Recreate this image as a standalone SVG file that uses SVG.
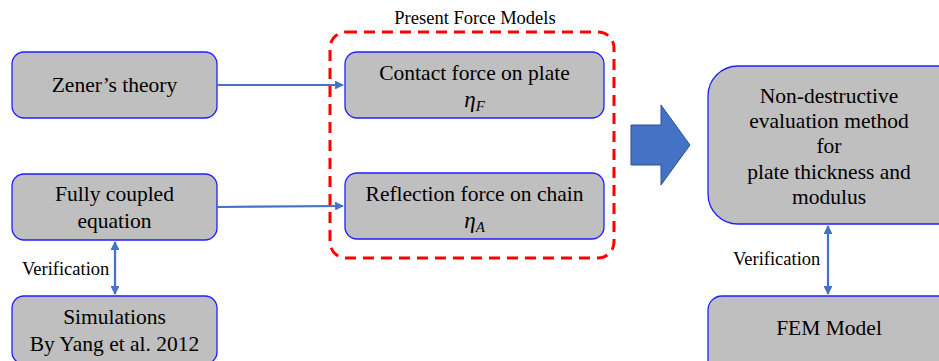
<svg xmlns="http://www.w3.org/2000/svg" width="939" height="361" viewBox="0 0 939 361">
  <defs>
    <marker id="ah" viewBox="0 0 10 10" refX="9" refY="5" markerWidth="4" markerHeight="4" orient="auto-start-reverse" markerUnits="strokeWidth">
      <path d="M0,0 L10,5 L0,10 z" fill="#4472c4"/>
    </marker>
    <style>
      .box { fill: #bfbfbf; stroke: #1f1fff; stroke-width: 1.3; }
      .t { font-family: 'Liberation Serif', 'DejaVu Serif', serif; font-size: 21.5px; fill: #000; text-anchor: middle; }
      .lbl { font-family: 'Liberation Serif', 'DejaVu Serif', serif; font-size: 18.5px; fill: #000; }
      .m { font-family: 'Liberation Serif', 'DejaVu Serif', serif; font-style: italic; font-size: 23px; fill: #000; text-anchor: middle; }
      .conn { stroke: #4472c4; stroke-width: 2.2; fill: none; }
    </style>
  </defs>
  <rect width="939" height="361" fill="#ffffff"/>

  <!-- dashed frame around the present force models -->
  <g id="present-models">
    <rect x="330" y="32" width="284" height="226" rx="16" fill="none" stroke="#ff0000" stroke-width="3" stroke-dasharray="11,7"/>
    <text class="lbl" x="475" y="24" text-anchor="middle">Present Force Models</text>
  </g>

  <g id="zener">
    <rect class="box" x="12" y="52" width="205" height="66" rx="12"/>
    <text class="t" x="114.5" y="92">Zener’s theory</text>
  </g>

  <g id="coupled">
    <rect class="box" x="12" y="174" width="205" height="66" rx="12"/>
    <text class="t" x="114.5" y="201">Fully coupled</text>
    <text class="t" x="114.5" y="228">equation</text>
  </g>

  <g id="simulations">
    <rect class="box" x="12" y="296" width="205" height="68" rx="12"/>
    <text class="t" x="114.5" y="324">Simulations</text>
    <text class="t" x="114.5" y="351">By Yang et al. 2012</text>
  </g>

  <g id="contact">
    <rect class="box" x="345" y="52" width="259" height="66" rx="12"/>
    <text class="t" x="474.5" y="80">Contact force on plate</text>
    <text class="m" x="474.5" y="107">η<tspan font-size="15" dy="4">F</tspan></text>
  </g>

  <g id="reflection">
    <rect class="box" x="345" y="173" width="259" height="66" rx="12"/>
    <text class="t" x="474.5" y="201">Reflection force on chain</text>
    <text class="m" x="474.5" y="228">η<tspan font-size="15" dy="4">A</tspan></text>
  </g>

  <g id="big-arrow">
    <path d="M631,125 L661,125 L661,105 L690,145 L661,185 L661,165 L631,165 Z" fill="#4472c4" stroke="#2f528f" stroke-width="1"/>
  </g>

  <g id="evaluation">
    <rect class="box" x="708" y="66" width="260" height="158" rx="30"/>
    <text class="t" x="829" y="103">Non-destructive</text>
    <text class="t" x="829" y="128">evaluation method</text>
    <text class="t" x="829" y="153">for</text>
    <text class="t" x="829" y="179">plate thickness and</text>
    <text class="t" x="829" y="204">modulus</text>
  </g>

  <g id="fem">
    <rect class="box" x="708" y="296" width="260" height="80" rx="14"/>
    <text class="t" x="829" y="335">FEM Model</text>
  </g>

  <g id="connectors">
    <line class="conn" x1="217" y1="85" x2="343" y2="85" marker-end="url(#ah)"/>
    <line class="conn" x1="217" y1="207" x2="343" y2="206" marker-end="url(#ah)"/>
    <line class="conn" x1="115" y1="242" x2="115" y2="294" marker-start="url(#ah)" marker-end="url(#ah)"/>
    <line class="conn" x1="828" y1="226" x2="828" y2="294" marker-start="url(#ah)" marker-end="url(#ah)"/>
    <text class="lbl" x="22" y="275">Verification</text>
    <text class="lbl" x="733" y="265">Verification</text>
  </g>
</svg>
